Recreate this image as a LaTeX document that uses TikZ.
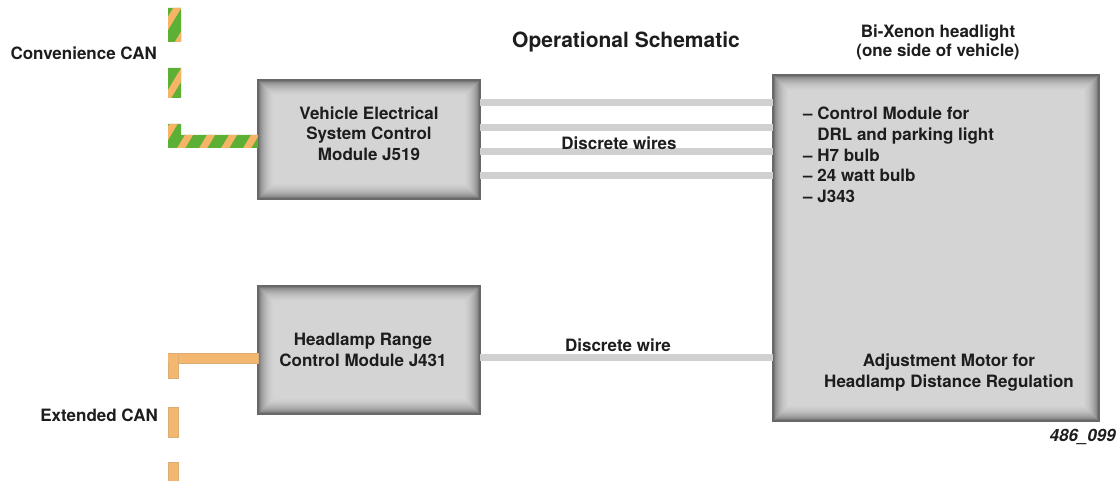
\documentclass[tikz,border=0pt]{standalone}
\usepackage{fontspec}
\setmainfont{TeX Gyre Heros}
\usetikzlibrary{calc}
\definecolor{boxfill}{HTML}{D4D4D4}
\definecolor{boxedge}{HTML}{7A7A7A}
\definecolor{wire}{HTML}{D0D0D0}
\definecolor{cangreen}{HTML}{5BB035}
\definecolor{canorange}{HTML}{F6B466}
\definecolor{extorange}{HTML}{F3B76F}
\definecolor{txt}{HTML}{1E1C1D}
\newcommand\mybevel[1]{%
  \path (#1.north west) coordinate (bnw) (#1.south east) coordinate (bse);
  \fill[boxedge] (bnw) rectangle (bse);
  \foreach \bi/\bpct in {2/20,3/32,4/42,5/51,6/59,7/66,8/72,9/78,10/83,11/87,12/91,13/94,14/97,15/100}{%
    \colorlet{bevcol}{boxfill!\bpct!boxedge}%
    \fill[bevcol] ([shift={(\bi,\bi)}]bnw) rectangle ([shift={(-\bi,-\bi)}]bse);
  }%
  \draw[boxedge!85!black, line width=1.2pt] (bnw) rectangle (bse);
}
\begin{document}
\begin{tikzpicture}[x=1pt,y=-1pt,
  every node/.style={font=\fontsize{17}{20.7}\selectfont\bfseries, text=txt, inner sep=0pt},
  box/.style={fill=boxfill, draw=boxedge, line width=1pt, align=center, anchor=north west},
  wireline/.style={draw=wire, line width=7pt},
  extcan/.style={fill=extorange, draw=extorange!80!gray, line width=0.4pt}]
\useasboundingbox (0,0) rectangle (1117,481);

% boxes
\node[box, minimum width=221pt, minimum height=118pt] (j519) at (258,80) {};
\node[box, minimum width=221pt, minimum height=127pt] (j431) at (258,286) {};
\node[box, minimum width=325pt, minimum height=345pt] (head) at (773,75) {};
\mybevel{j519}
\mybevel{j431}
\mybevel{head}
\node (j519t) at (j519.center) [align=center, yshift=6pt] {Vehicle Electrical\\System Control\\Module J519};
\node (j431t) at (j431.center) [align=center, xshift=-6pt] {Headlamp Range\\Control Module J431};
\node[anchor=north west, align=left] (list) at (803,107) {-- Control Module for\\\hphantom{-- }DRL and parking light\\-- H7 bulb\\-- 24 watt bulb\\-- J343};
\node[align=center] (motor) at (949,372.5) {Adjustment Motor for\\Headlamp Distance Regulation};

% wires
\foreach \y/\n in {103/a,128/b,152/c,176/d}{
  \coordinate (w\n) at (0,\y);
  \draw[wireline] (j519.east |- w\n) -- (head.west |- w\n);
}
\coordinate (we) at (0,357);
\draw[wireline] (j431.east |- we) -- (head.west |- we);
\node (dw) at (619,143) {Discrete wires};
\node (dw2) at (618,345) {Discrete wire};

% titles
\node[font=\fontsize{21}{25}\selectfont\bfseries] (title) at (626,42) {Operational Schematic};
\node[align=center, font=\fontsize{17}{19.5}\selectfont\bfseries] (bix) at (938,42.5) {Bi-Xenon headlight\\(one side of vehicle)};
\node[anchor=east, font=\fontsize{17}{20}\selectfont\bfseries\itshape] (fig) at (1116,437) {486\_099};

% Convenience CAN
\node[anchor=east] (convcan) at (157,53) {Convenience CAN};
\coordinate (ca) at (168,141.5);
\begin{scope}
  \clip (168,8) rectangle (181,42) (168,68) rectangle (181,98) (168,124) rectangle (181,148) (168,135) rectangle (j519.west |- 0,148);
  \fill[cangreen] (160,0) rectangle (260,160);
  \foreach \k in {20,42,...,280}{
    \draw[canorange, line width=7pt] (\k,160) -- ++(96,-160);
  }
\end{scope}

% Extended CAN
\node[anchor=east] (extcanl) at (158,415) {Extended CAN};
\coordinate (ea) at (168,358);
\fill[extcan] (168,353) rectangle (j431.west |- 0,363);
\fill[extcan] (168,353) rectangle (178,378);
\fill[extorange] (168.2,354) rectangle (177.8,362);
\fill[extcan] (168,407) rectangle (178,437);
\fill[extcan] (168,462) rectangle (178,482);
\end{tikzpicture}
\end{document}
